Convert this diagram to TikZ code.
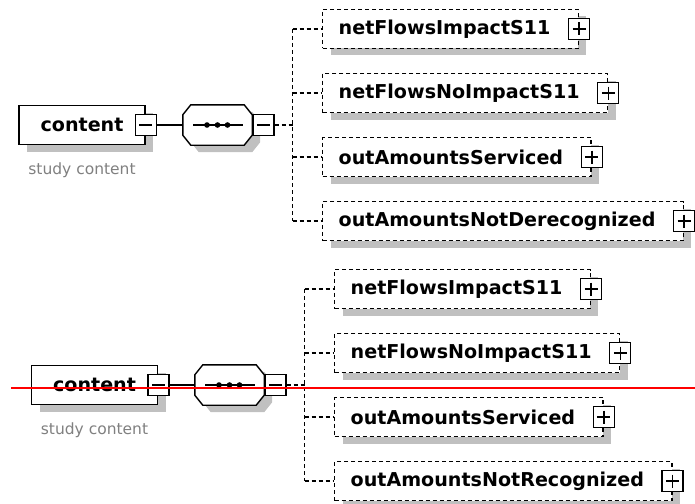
\documentclass[tikz,border=0pt]{standalone}
\usepackage{fontspec}
\setmainfont{DejaVu Sans}
\usepackage{tikz}
\usetikzlibrary{positioning,calc,shadows}

\definecolor{shadowgray}{RGB}{192,192,192}
\definecolor{notegray}{RGB}{128,128,128}

\begin{document}
\begin{tikzpicture}[x=1pt,y=-1pt,
  elemfont/.style={font=\fontsize{19.1}{21}\selectfont\bfseries},
  shadowed/.style={drop shadow={shadow xshift=8pt,shadow yshift=-7pt,fill=shadowgray,opacity=1}},
  elembox/.style={elemfont,draw,line width=1.6pt,fill=white,shadowed,
    minimum width=126pt,minimum height=39pt,inner sep=0pt},
  childbox/.style={elemfont,draw,dash pattern=on 4pt off 3pt,line width=1.4pt,fill=white,shadowed,
    minimum height=39pt,inner ysep=0pt,inner xsep=16pt,anchor=west,
    execute at end node={\hspace{12pt}}},
  notetext/.style={font=\fontsize{15.5}{17}\selectfont,text=notegray,inner sep=0pt},
  pmbox/.style={draw,fill=white,line width=1.4pt,minimum size=21pt,inner sep=0pt},
  minusbox/.style={pmbox,path picture={
    \draw[line width=1.4pt] ([xshift=4pt]path picture bounding box.west) -- ([xshift=-4pt]path picture bounding box.east);}},
  plusbox/.style={pmbox,path picture={
    \draw[line width=1.4pt] ([xshift=4pt]path picture bounding box.west) -- ([xshift=-4pt]path picture bounding box.east);
    \draw[line width=1.4pt] ([yshift=-4pt]path picture bounding box.north) -- ([yshift=4pt]path picture bounding box.south);}},
  seqnode/.style={minimum width=69pt,minimum height=40pt,inner sep=0pt},
  conn/.style={line width=1.4pt},
  dconn/.style={line width=1.4pt,dash pattern=on 4pt off 3pt}]

\useasboundingbox (0,0) rectangle (695,503);

% upper model
\begin{scope}
    \node[elembox] (content) at (82,125) {content};
    \node[minusbox] (cminus) at (content.east) {};
    \node[notetext,below=17pt of content] (note) {study content};

    \node[seqnode] (seq) at (217.5,125) {};
    \fill[shadowgray,transform canvas={shift={(8pt,-7pt)}}]
        ($(seq.north west)+(8,0)$) -- ($(seq.north east)+(-8,0)$) -- ($(seq.north east)+(0,10)$)
        -- ($(seq.south east)+(0,-10)$) -- ($(seq.south east)+(-8,0)$) -- ($(seq.south west)+(8,0)$)
        -- ($(seq.south west)+(0,-10)$) -- ($(seq.north west)+(0,10)$) -- cycle;
    \draw[fill=white,line width=1.4pt]
        ($(seq.north west)+(8,0)$) -- ($(seq.north east)+(-8,0)$) -- ($(seq.north east)+(0,10)$)
        -- ($(seq.south east)+(0,-10)$) -- ($(seq.south east)+(-8,0)$) -- ($(seq.south west)+(8,0)$)
        -- ($(seq.south west)+(0,-10)$) -- ($(seq.north west)+(0,10)$) -- cycle;
    \draw[line width=1.4pt] ($(seq.center)+(-24.5,0)$) -- ($(seq.center)+(25.5,0)$);
    \fill ($(seq.center)+(-10.5,0)$) circle(2.8);
    \fill (seq.center) circle(2.8);
    \fill ($(seq.center)+(10,0)$) circle(2.8);
    \node[minusbox,right=0pt of seq] (sminus) {};

    \coordinate (fork) at (292.5,125);

    \node[childbox] (c1) at (322,29) {netFlowsImpactS11};
    \node[childbox] (c2) at (322,93) {netFlowsNoImpactS11};
    \node[childbox] (c3) at (322,157) {outAmountsServiced};
    \node[childbox] (c4) at (322,221) {outAmountsNotDerecognized};
    \node[plusbox] (p1) at (c1.east) {};
    \node[plusbox] (p2) at (c2.east) {};
    \node[plusbox] (p3) at (c3.east) {};
    \node[plusbox] (p4) at (c4.east) {};

    \draw[conn] (cminus.east) -- (seq.west);
    \draw[dconn] (sminus.east) -- (fork);
    \draw[dconn] (c1.west -| fork) -- (c4.west -| fork);
    \draw[dconn] (c1.west -| fork) -- (c1.west);
    \draw[dconn] (c2.west -| fork) -- (c2.west);
    \draw[dconn] (c3.west -| fork) -- (c3.west);
    \draw[dconn] (c4.west -| fork) -- (c4.west);
\end{scope}

% lower model
\begin{scope}
    \node[elembox] (contentb) at (94.5,385) {content};
    \node[minusbox] (cminusb) at (contentb.east) {};
    \node[notetext,below=17pt of contentb] (noteb) {study content};

    \node[seqnode] (seqb) at (229.5,385) {};
    \fill[shadowgray,transform canvas={shift={(8pt,-7pt)}}]
        ($(seqb.north west)+(8,0)$) -- ($(seqb.north east)+(-8,0)$) -- ($(seqb.north east)+(0,10)$)
        -- ($(seqb.south east)+(0,-10)$) -- ($(seqb.south east)+(-8,0)$) -- ($(seqb.south west)+(8,0)$)
        -- ($(seqb.south west)+(0,-10)$) -- ($(seqb.north west)+(0,10)$) -- cycle;
    \draw[fill=white,line width=1.4pt]
        ($(seqb.north west)+(8,0)$) -- ($(seqb.north east)+(-8,0)$) -- ($(seqb.north east)+(0,10)$)
        -- ($(seqb.south east)+(0,-10)$) -- ($(seqb.south east)+(-8,0)$) -- ($(seqb.south west)+(8,0)$)
        -- ($(seqb.south west)+(0,-10)$) -- ($(seqb.north west)+(0,10)$) -- cycle;
    \draw[line width=1.4pt] ($(seqb.center)+(-24.5,0)$) -- ($(seqb.center)+(25.5,0)$);
    \fill ($(seqb.center)+(-10.5,0)$) circle(2.8);
    \fill (seqb.center) circle(2.8);
    \fill ($(seqb.center)+(10,0)$) circle(2.8);
    \node[minusbox,right=0pt of seqb] (sminusb) {};

    \coordinate (forkb) at (304.5,385);

    \node[childbox] (d1) at (334,289) {netFlowsImpactS11};
    \node[childbox] (d2) at (334,353) {netFlowsNoImpactS11};
    \node[childbox] (d3) at (334,417) {outAmountsServiced};
    \node[childbox] (d4) at (334,481) {outAmountsNotRecognized};
    \node[plusbox] (q1) at (d1.east) {};
    \node[plusbox] (q2) at (d2.east) {};
    \node[plusbox] (q3) at (d3.east) {};
    \node[plusbox] (q4) at (d4.east) {};

    \draw[conn] (cminusb.east) -- (seqb.west);
    \draw[dconn] (sminusb.east) -- (forkb);
    \draw[dconn] (d1.west -| forkb) -- (d4.west -| forkb);
    \draw[dconn] (d1.west -| forkb) -- (d1.west);
    \draw[dconn] (d2.west -| forkb) -- (d2.west);
    \draw[dconn] (d3.west -| forkb) -- (d3.west);
    \draw[dconn] (d4.west -| forkb) -- (d4.west);
\end{scope}

\draw[red,line width=2pt] (11,387.7) -- (695,387.7);

\end{tikzpicture}
\end{document}
